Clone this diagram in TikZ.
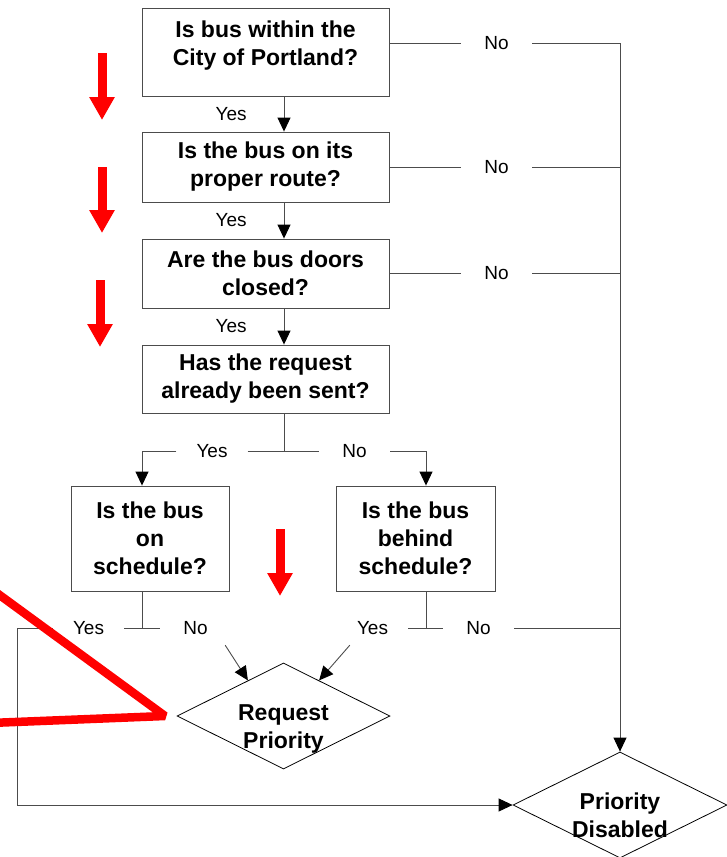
\documentclass[tikz,border=0pt]{standalone}
\usepackage{fontspec}
\setmainfont{Liberation Sans}
\usepackage{tikz}
\usetikzlibrary{arrows.meta}
\usetikzlibrary{shapes.geometric}
\usetikzlibrary{positioning}
\tikzset{
    flowline/.style={draw=black!70, line width=0.9pt},
    flowarrow/.style={flowline, -{Triangle[width=13pt,length=14pt,color=black]}},
    qbox/.style={draw=black!70, line width=0.9pt, align=center, inner sep=0pt, minimum width=247pt, font=\fontsize{23}{28}\selectfont\bfseries},
    outcome/.style={shape=diamond, draw=black, line width=0.8pt, inner sep=0pt},
    otext/.style={align=center, inner sep=0pt, font=\fontsize{23}{28}\selectfont\bfseries},
    lbl/.style={inner sep=0pt, font=\fontsize{19}{23}\selectfont},
    gaplbl/.style={lbl, minimum width=71pt, minimum height=34pt},
    redarrow/.style={draw=red, line width=9pt, -{Triangle[width=24pt,length=23pt]}}
}

\begin{document}
\begin{tikzpicture}[x=1pt, y=-1pt]
    \useasboundingbox (0,0) rectangle (727,857);

    \coordinate (spine) at (284,0);
    \coordinate (trunk) at (620,0);
    \coordinate (leftleg) at (142,0);
    \coordinate (rightleg) at (426,0);
    \coordinate (loop) at (17,0);

    \node[qbox, minimum height=88pt] (q1) at (265.5,52) {Is bus within the\\City of Portland?\rule[-17pt]{0pt}{0pt}};
    \node[qbox, minimum height=70pt] (q2) at (265.5,167) {Is the bus on its\\proper route?};
    \node[qbox, minimum height=69pt] (q3) at (265.5,273.5) {Are the bus doors\\closed?};
    \node[qbox, minimum height=68pt] (q4) at (265.5,379) {Has the request\\already been sent?};
    \node[qbox, minimum width=158pt, minimum height=105pt] (q5) at (150,538.5) {Is the bus\\on\\schedule?};
    \node[qbox, minimum width=159pt, minimum height=105pt] (q6) at (415.5,538.5) {Is the bus\\behind\\schedule?};

    \node[outcome, minimum width=213pt, minimum height=106pt,
        label={[otext, yshift=-13pt]center:{Request\\Priority}}] (req) at (283.5,716) {};
    \node[outcome, minimum width=214pt, minimum height=106pt,
        label={[otext, yshift=-10pt]center:{Priority\\Disabled}}] (dis) at (620,805) {};

    \node[gaplbl] (n1) at (496.5,43) {No};
    \node[gaplbl] (n2) at (496.5,167) {No};
    \node[gaplbl] (n3) at (496.5,273) {No};
    \node[gaplbl] (y4) at (212,451) {Yes};
    \node[gaplbl] (n4) at (354.5,451) {No};
    \node[gaplbl] (y5) at (88.5,628) {Yes};
    \node[gaplbl] (n5) at (195.5,628) {No};
    \node[gaplbl] (y6) at (372.5,628) {Yes};
    \node[gaplbl] (n6) at (478.5,628) {No};

    \draw [flowarrow](q1.south -| spine) -- node[lbl, left=37pt] (y1) {Yes} (q2.north -| spine);
    \draw [flowarrow](q2.south -| spine) -- node[lbl, left=37pt] (y2) {Yes} (q3.north -| spine);
    \draw [flowarrow](q3.south -| spine) -- node[lbl, left=37pt] (y3) {Yes} (q4.north -| spine);

    \draw [flowline](q1.east |- n1) -- (n1) -- (n1 -| trunk);
    \draw [flowline](q2.east |- n2) -- (n2) -- (n2 -| trunk);
    \draw [flowline](q3.east |- n3) -- (n3) -- (n3 -| trunk);
    \draw [flowarrow](n1 -| trunk) -- (dis.north);

    \draw [flowline](q4.south -| spine) -- (y4 -| spine);
    \draw [flowline](y4) -- (n4);
    \draw [flowarrow](y4) -| (q5.north -| leftleg);
    \draw [flowarrow](n4) -| (q6.north -| rightleg);

    \draw [flowline](q5.south -| leftleg) -- (y5 -| leftleg);
    \draw [flowline](y5) -- (n5);
    \draw [flowline](q6.south -| rightleg) -- (y6 -| rightleg);
    \draw [flowline](y6) -- (n6) -- (n6 -| trunk);
    \draw [flowarrow](y5) -| (loop |- dis.west) -- (dis.west);
    \draw [flowarrow]([xshift=-6pt]n5.south east) -- (req.135);
    \draw [flowarrow]([xshift=13pt]y6.south west) -- (req.45);

    \draw [redarrow](102,53) -- (102,120);
    \draw [redarrow](102,167) -- (102,233);
    \draw [redarrow](100,280) -- (100,347);
    \draw [redarrow](280,529) -- (280,596);
    \draw [draw=red, line width=8.5pt, line join=bevel](-10,588) -- (165,716) -- (-10,723);

\end{tikzpicture}
\end{document}
